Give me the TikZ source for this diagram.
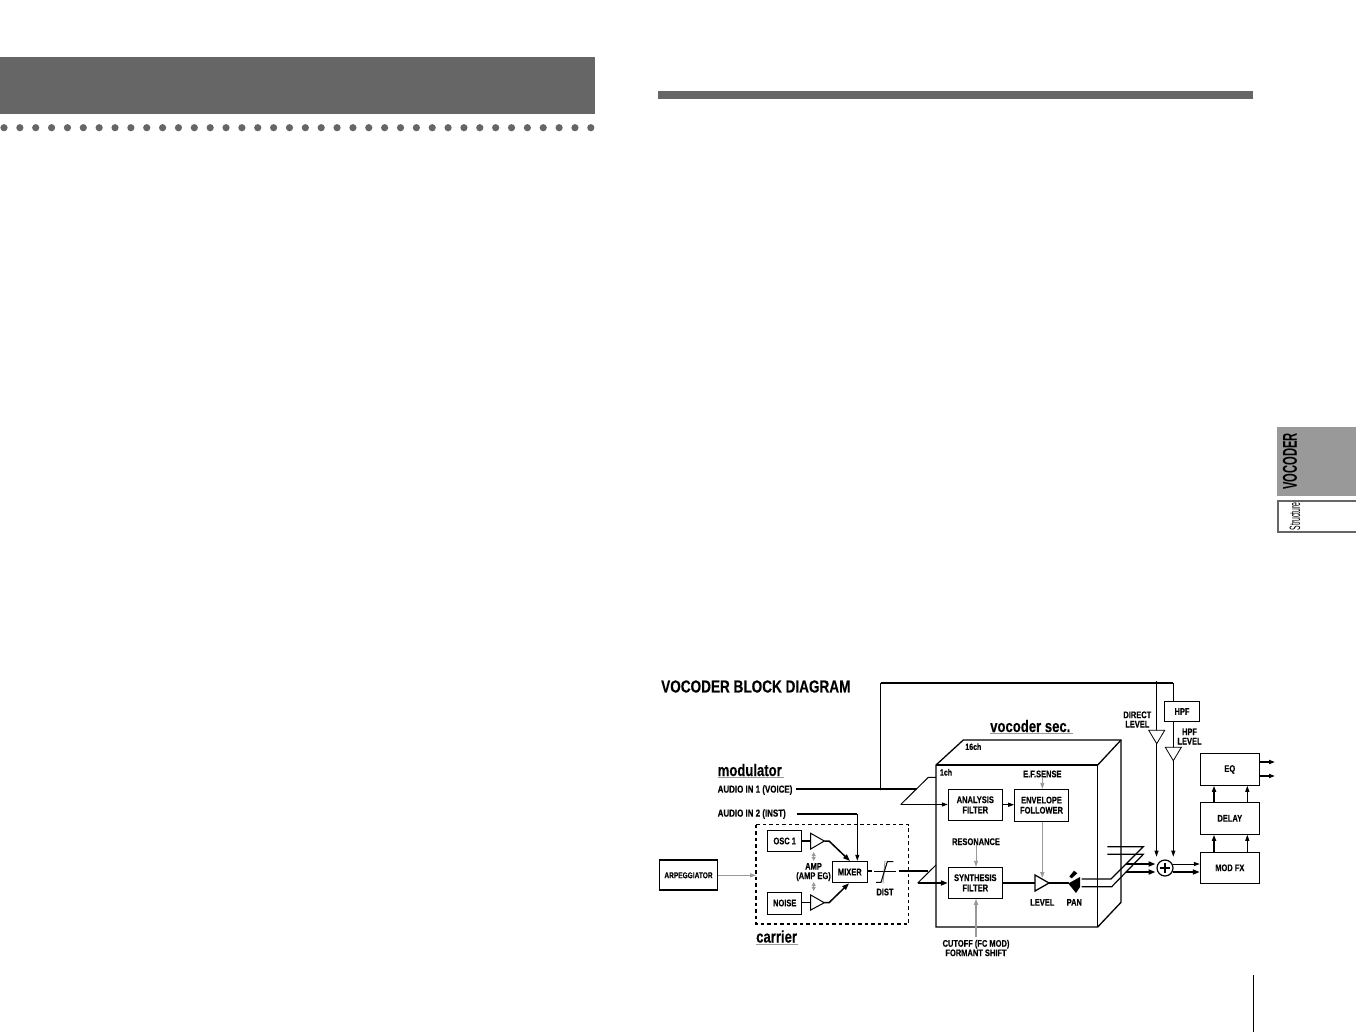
\documentclass[tikz,border=0pt]{standalone}
\usepackage{fontspec}
\setmainfont{Liberation Sans}
\newfontfamily\cnd[FakeStretch=0.78,FakeBold=0.25]{Liberation Sans Bold}
\newfontfamily\tabfont[FakeStretch=0.56]{Liberation Sans Bold}
\newfontfamily\slim[FakeStretch=0.46]{Liberation Sans}
\usetikzlibrary{arrows.meta,calc}
\definecolor{band}{HTML}{666666}
\definecolor{tabgray}{HTML}{999999}
\definecolor{sig}{HTML}{999999}
\tikzset{
 x=1pt,y=-1pt,
 blockbox/.style={draw=black,line width=1pt,fill=white,inner sep=0pt,align=center,font=\cnd\fontsize{9.6}{10.2}\selectfont},
 tag/.style={inner sep=0pt,align=center,font=\cnd\fontsize{9.6}{9.4}\selectfont},
 head/.style={inner sep=0pt,anchor=west,font=\cnd\fontsize{16.8}{17}\selectfont},
 wire/.style={line width=1pt,-{Triangle[length=6pt,width=4pt]}},
 heavy/.style={line width=2pt},
 heavy wire/.style={line width=1.8pt,-{Triangle[length=7pt,width=5pt]}},
 ctl/.style={draw=sig,line width=0.9pt,-{Triangle[length=6pt,width=4pt]}},
 ctl heavy/.style={draw=sig,line width=1.5pt,-{Triangle[length=6pt,width=4pt]}},
 rule/.style={draw=sig,line width=1pt},
}
\newcommand{\blk}[6]{\node[blockbox,minimum width=#4 pt-#2 pt,minimum height=#5 pt-#3 pt] (#1) at ({(#2+#4)/2},{(#3+#5)/2}) {#6};}
\begin{document}
\begin{tikzpicture}
\useasboundingbox (0,0) rectangle (1356,1032);
% page furniture
\fill[band] (0,57) rectangle (595,114);
\foreach \k in {0,...,37}{\fill[band] ({4+15.86*\k},127.7) circle (3.6);}
\fill[band] (658,91) rectangle (1253,99);
\fill[tabgray] (1277,427) rectangle (1356,496);
\node[rotate=90,inner sep=0pt,font=\tabfont\fontsize{20}{20}\selectfont] (tabv) at (1290,461.5) {VOCODER};
\draw[band,line width=2pt] (1356,501) -- (1278,501) -- (1278,532) -- (1356,532);
\node[rotate=90,inner sep=0pt,font=\slim\fontsize{15}{15}\selectfont] (tabs) at (1295,516.5) {Structure};
\draw[black,line width=1pt] (1253.3,975) -- (1253.3,1032);

% title and section labels
\node[head,font=\cnd\fontsize{17.4}{17.4}\selectfont] (title) at (661,686.5) {VOCODER BLOCK DIAGRAM};
\node[head] (modl) at (717.5,770) {modulator};
\node[head] (carr) at (756,936.5) {carrier};
\node[head] (vsec) at (990,726) {vocoder sec.};
\draw[rule] (717.5,777.7) -- (784,777.7);
\draw[rule] (755.5,944) -- (798,944);
\draw[rule] (990,733.3) -- (1072.5,733.3);

% vocoder cabinet
\draw[line width=1.3pt,fill=white] (936,765) -- (963.3,740) -- (1121,740) -- (1121,902.3) -- (1097.7,927) -- (936,927) -- cycle;
\draw[line width=1.3pt] (936,765) -- (1097.7,765) -- (1097.7,927);
\draw[line width=1.3pt] (1097.7,765) -- (1121,740);
\node[tag,font=\cnd\fontsize{9}{9}\selectfont] (ch16) at (973.3,746.7) {16ch};
\node[tag,font=\cnd\fontsize{9}{9}\selectfont] (ch1) at (946,772.3) {1ch};

% carrier dashed group
\draw[line width=1.5pt,dash pattern=on 3.5pt off 3pt] (756,824.7) rectangle (908.7,924);

% blocks
\blk{osc}{767.7}{830.7}{801.7}{851.3}{OSC 1}
\blk{noise}{767.7}{892}{801.7}{914}{NOISE}
\blk{mixer}{832.3}{861.3}{867.3}{882.7}{MIXER}
\node[blockbox,line width=1.8pt,minimum width=58pt,minimum height=30pt,font=\cnd\fontsize{8.4}{10}\selectfont] (arp) at (688.5,875.3) {ARPEGGIATOR};
\blk{ana}{948.3}{789.3}{1002.3}{820.3}{ANALYSIS\\FILTER}
\blk{env}{1014.7}{789.3}{1068.3}{821}{ENVELOPE\\FOLLOWER}
\blk{syn}{948.3}{867.3}{1002.3}{898.3}{SYNTHESIS\\FILTER}
\blk{hpf}{1164.7}{701.7}{1199.3}{721.3}{HPF}
\blk{eq}{1200.3}{753.7}{1259.3}{785.3}{EQ}
\blk{dly}{1200.3}{802.3}{1259.3}{834.3}{DELAY}
\blk{mod}{1200.3}{852.3}{1259.3}{883.3}{MOD FX}

% labels
\node[tag,anchor=west,font=\cnd\fontsize{10.2}{10}\selectfont] (ai1) at (717.5,790) {AUDIO IN 1 (VOICE)};
\node[tag,anchor=west,font=\cnd\fontsize{10.2}{10}\selectfont] (ai2) at (717.5,814) {AUDIO IN 2 (INST)};
\node[tag,align=center] (amp) at (813.5,872) {AMP\\(AMP EG)};
\node[tag] (dist) at (885,892) {DIST};
\node[tag] (ef) at (1042.3,774) {E.F.SENSE};
\node[tag] (res) at (976,841.7) {RESONANCE};
\node[tag] (cut) at (976,948) {CUTOFF (FC MOD)\\FORMANT SHIFT};
\node[tag] (lvl) at (1042.3,902.3) {LEVEL};
\node[tag] (panl) at (1074.3,902.3) {PAN};
\node[tag] (dl) at (1137.3,719.5) {DIRECT\\LEVEL};
\node[tag] (hl) at (1189.5,736.5) {HPF\\LEVEL};

% named points
\coordinate (topL) at (880.5,683);
\coordinate (topR) at (1173.3,683);
\coordinate (tapA) at (880.5,789);
\coordinate (upA) at (900.7,804.5);
\coordinate (upC) at (917.7,883);
\coordinate (in1s) at (796,789);
\coordinate (in1end) at (917,789);
\coordinate (in2s) at (796.7,814);
\coordinate (in2k) at (857.3,814);
\coordinate (dirTop) at (1156.5,681);
\coordinate (sumN1) at (1156.5,856.7);
\coordinate (sumN2) at (1173.3,856.7);
\coordinate (mixY) at (871.7,871);
\coordinate (aeY) at (1000,804.7);
\coordinate (chanY) at (1035,883);
\coordinate (lvlX) at (1042.3,878);
\coordinate (sumA) at (1173.3,864);
\coordinate (sumB) at (1173.3,872);

% input wires
\draw[line width=2pt] (in1s) -- (in1end);
\draw[line width=2pt] (topL) -- (topR);
\draw[line width=1pt] (tapA) -- (topL);
\draw[line width=1pt] (topR) -- (topR |- hpf.north);
\fill (tapA) circle (1.4);
\draw[line width=1pt] (upA) -- (928.3,777.3) -- (936,777.3);
\draw[wire,line width=1.2pt] (upA) -- (ana.west |- upA);
\draw[line width=2pt] (in2s) -- (in2k);
\draw[wire] (in2k) -- (in2k |- mixer.north);

% amp stages
\coordinate (t1a) at (810.7,833.3);\coordinate (t1b) at (810.7,849);\coordinate (t1c) at (824.3,841);
\coordinate (t2a) at (810.7,895);\coordinate (t2b) at (810.7,910);\coordinate (t2c) at (824.3,902.7);
\draw[line width=1.5pt] (osc.east |- t1c) -- (t1a |- t1c);
\draw[line width=1.5pt] (noise.east |- t2c) -- (t2a |- t2c);
\draw[line width=1pt,fill=white] (t1a) -- (t1b) -- (t1c) -- cycle;
\draw[line width=1pt,fill=white] (t2a) -- (t2b) -- (t2c) -- cycle;
\draw[heavy wire,line width=1.5pt] (t1c) -- (829,841) -- (850,861);
\draw[heavy wire,line width=1.5pt] (t2c) -- (829,902.7) -- (849,883.3);
\draw[draw=sig,line width=0.9pt,{Triangle[length=4pt,width=4pt]}-{Triangle[length=4pt,width=4pt]}] (813.7,852) -- (813.7,861);
\draw[draw=sig,line width=0.9pt,{Triangle[length=4pt,width=4pt]}-{Triangle[length=4pt,width=4pt]}] (813.7,882) -- (813.7,891);
\coordinate (carrW) at (756,875.3);
\draw[ctl] (arp.east) -- (carrW);

% distortion
\draw[line width=2pt] (mixer.east |- mixY) -- (mixY);
\draw[line width=1pt] (874,871) -- (896,871);
\draw[draw=sig,line width=1pt] (885,861) -- (883,883);
\draw[line width=1pt] (876,882.3) -- (881,882.3) -- (887.3,861.7) -- (893.3,861.7);
\draw[line width=2pt] (899.3,871) -- (928,871);
\draw[line width=1pt] (upC) -- (936,865);
\draw[heavy wire,line width=2pt] (upC) -- (syn.west |- upC);

% channel signal flow
\draw[wire,line width=1.2pt] (ana.east |- aeY) -- (env.west |- aeY);
\draw[ctl] (ef.south) -- (ef.south |- env.north);
\draw[ctl] (res.south) -- (res.south |- syn.north);
\coordinate (cutS) at (976,937);
\draw[ctl heavy] (cutS) -- (cutS |- syn.south);
\draw[heavy] (syn.east |- chanY) -- (chanY);
\draw[heavy] (1049,883) -- (1068.5,883);
\draw[line width=1.3pt,fill=white] (1035,875) -- (1035,891) -- (1049,883) -- cycle;
\draw[ctl heavy] (lvlX |- env.south) -- (lvlX);
\fill (1074,870.7) -- (1077.3,873.3) -- (1071.7,878.3) -- (1069.3,876.5) -- cycle;
\fill (1080,877) -- (1068.3,883.5) -- (1076,893) -- (1080,887) -- cycle;

% stereo outs
\draw[line width=1.2pt] (1081.7,879) -- (1111,879) -- (1143.3,846.7) -- (1107.3,846.7);
\draw[line width=1.2pt] (1081.7,886.7) -- (1111.7,886.7) -- (1143.3,854.3) -- (1107.3,854.3);

% sum and post
\node[draw=black,line width=1.2pt,circle,minimum size=16pt,inner sep=0pt,fill=white] (sum) at (1165,868) {};
\draw[line width=1.8pt] (1160,868) -- (1170,868);
\draw[line width=1.8pt] (1165,863) -- (1165,873);
\draw[heavy wire,line width=2pt] (1126,864) -- (1155.5,864);
\draw[heavy wire,line width=2pt] (1126,872) -- (1155.5,872);
\draw[wire,line width=1pt] (sumA) -- (mod.west |- sumA);
\draw[heavy wire,line width=2pt] (sumB) -- (mod.west |- sumB);
\draw[wire,line width=0.9pt] (dirTop) -- (sumN1);
\draw[wire,line width=0.9pt] (topR |- hpf.south) -- (sumN2);
\draw[line width=0.8pt,fill=white] (1148.7,730.3) -- (1164.7,730.3) -- (1156.7,743.7) -- cycle;
\draw[line width=0.8pt,fill=white] (1165.3,747.3) -- (1181.3,747.3) -- (1173.3,760.7) -- cycle;

% fx chain
\coordinate (fa) at (1214,800);
\coordinate (fb) at (1247.3,800);
\draw[wire,line width=2pt] (fa |- mod.north) -- (fa |- dly.south);
\draw[wire,line width=0.9pt] (fb |- mod.north) -- (fb |- dly.south);
\draw[wire,line width=2pt] (fa |- dly.north) -- (fa |- eq.south);
\draw[wire,line width=0.9pt] (fb |- dly.north) -- (fb |- eq.south);
\coordinate (outA) at (1275,762);
\coordinate (outB) at (1275,776);
\draw[wire,line width=2pt] (eq.east |- outA) -- (outA);
\draw[wire,line width=2pt] (eq.east |- outB) -- (outB);
\end{tikzpicture}
\end{document}
